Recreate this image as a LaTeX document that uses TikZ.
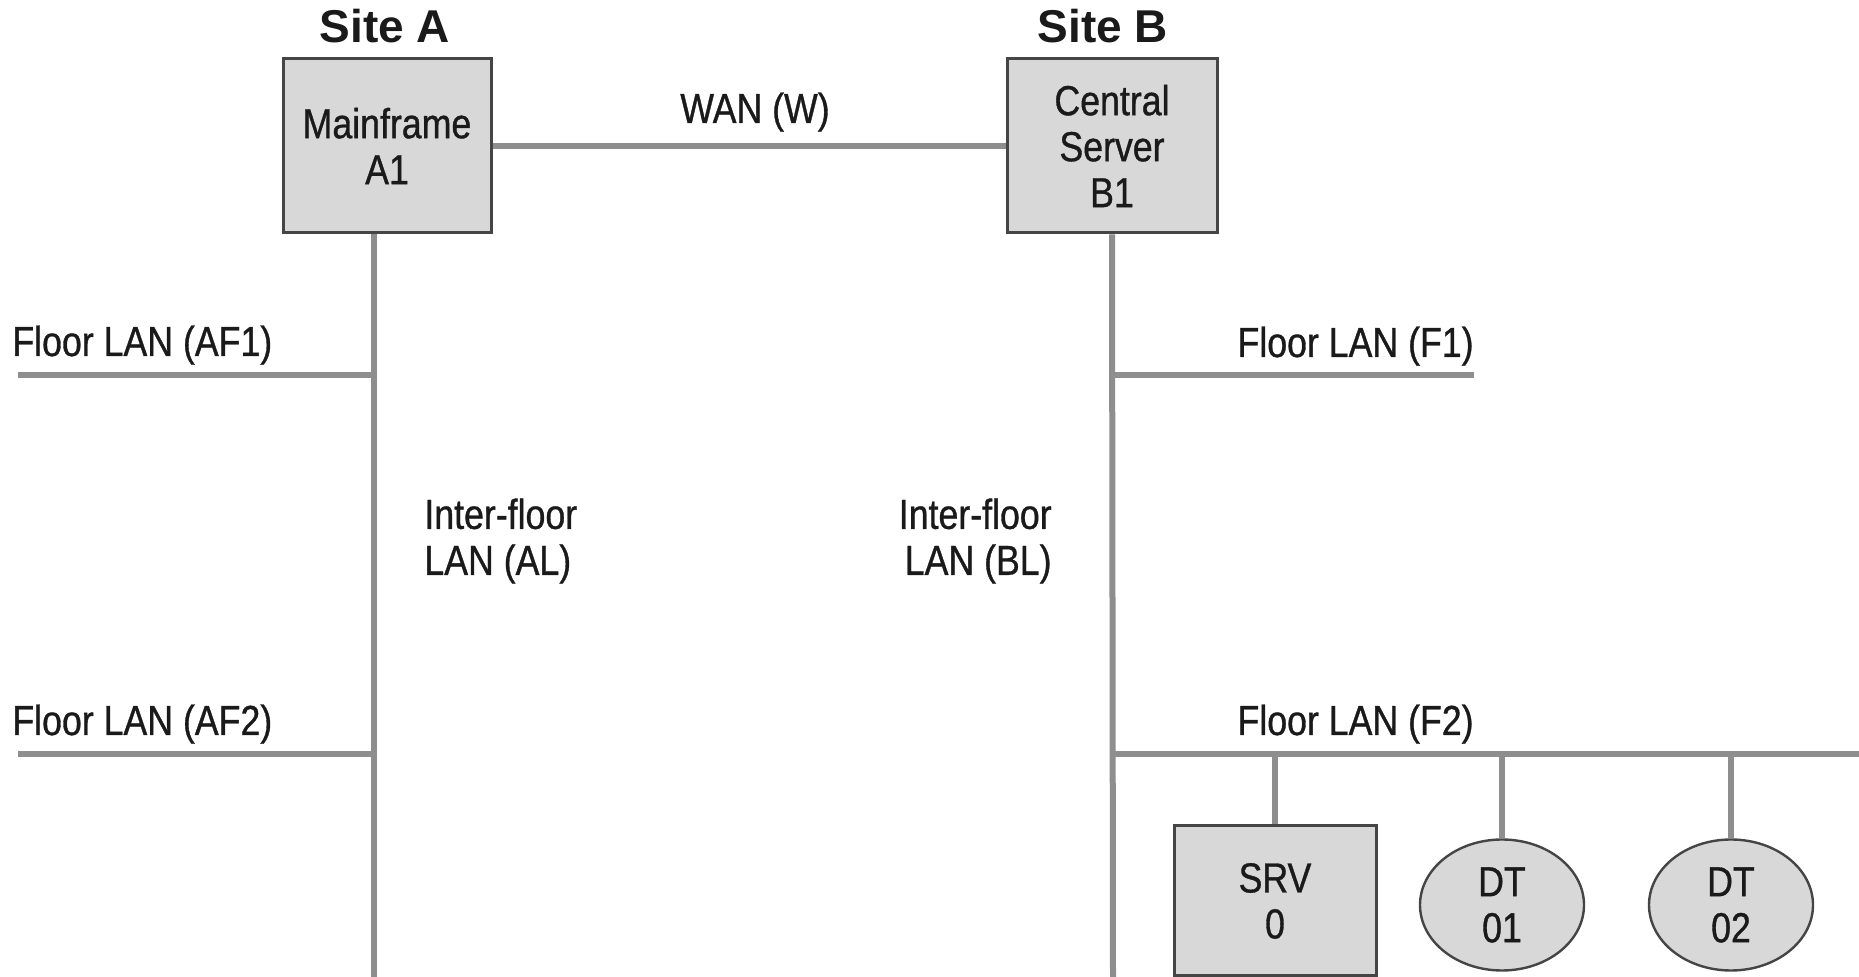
\documentclass[tikz,border=0pt]{standalone}
\usepackage{fontspec}
\setmainfont{Liberation Sans}
\newfontfamily\labfont[FakeStretch=0.85,FakeBold=0.8]{Liberation Sans}
\usetikzlibrary{shapes.geometric}
\definecolor{linegray}{HTML}{8E8E8E}
\definecolor{boxfill}{HTML}{D8D8D8}
\definecolor{boxedge}{HTML}{454545}
\definecolor{ink}{HTML}{1A1A1A}
\tikzset{
  lan/.style={draw=linegray, line width=3pt},
  device/.style={draw=boxedge, fill=boxfill, line width=1.5pt, align=center, inner sep=0pt,
    text=ink, font=\labfont\fontsize{21}{23}\selectfont},
  elldevice/.style={device, ellipse, line width=1.2pt},
  lbl/.style={text=ink, inner sep=0pt, font=\labfont\fontsize{21}{23}\selectfont},
  site/.style={text=ink, inner sep=0pt, font=\bfseries\fontsize{23}{26}\selectfont},
}
\begin{document}
\begin{tikzpicture}[x=0.5pt,y=-0.5pt]
\useasboundingbox (0,0) rectangle (1859,977);
% coordinates for line ends
\coordinate (Abot) at (374,977);
\coordinate (Bbot) at (1113,977);
\coordinate (af1) at (18,375);
\coordinate (af2) at (18,754);
\coordinate (f1e) at (1474,375);
\coordinate (f2e) at (1859,754);
% devices
\node[device, minimum width=104pt, minimum height=87pt] (A) at (387,146) {Mainframe\\A1};
\node[device, minimum width=105pt, minimum height=87pt] (B) at (1112,146) {Central\\Server\\B1};
\node[device, minimum width=101pt, minimum height=75pt] (SRV) at (1275,901) {SRV\\0};
\node[elldevice, minimum width=82pt, minimum height=65.5pt] (DT1) at (1502,905) {DT\\01};
\node[elldevice, minimum width=82pt, minimum height=65.5pt] (DT2) at (1731,905) {DT\\02};
% LANs
\draw[lan] (A.east) -- (B.west);
\draw[lan] (Abot |- A.south) -- (Abot);
\draw[lan] (af1) -- (af1 -| Abot);
\draw[lan] (af2) -- (af2 -| Abot);
\draw[lan] (B.south) -- (Bbot);
\draw[lan] (f1e -| Bbot) -- (f1e);
\draw[lan] (f2e -| Bbot) -- (f2e);
\draw[lan] (SRV.north |- f2e) -- (SRV.north);
\draw[lan] (DT1.north |- f2e) -- (DT1.north);
\draw[lan] (DT2.north |- f2e) -- (DT2.north);
% labels
\node[site, anchor=base] (siteA) at (385,43) {Site A};
\node[site, anchor=base] (siteB) at (1103,43) {Site B};
\node[lbl, anchor=base] (wan) at (755,123) {WAN (W)};
\node[lbl, anchor=base west] (laf1) at (12,356) {Floor LAN (AF1)};
\node[lbl, anchor=base west] (laf2) at (12,735) {Floor LAN (AF2)};
\node[lbl, anchor=base east] (lf1) at (1474,357) {Floor LAN (F1)};
\node[lbl, anchor=base east] (lf2) at (1474,735) {Floor LAN (F2)};
\node[lbl, anchor=west, align=left] (lal) at (424,541) {Inter-floor\\LAN (AL)};
\node[lbl, anchor=east, align=right] (lbl) at (1052,541) {Inter-floor\\LAN (BL)};
\end{tikzpicture}
\end{document}
